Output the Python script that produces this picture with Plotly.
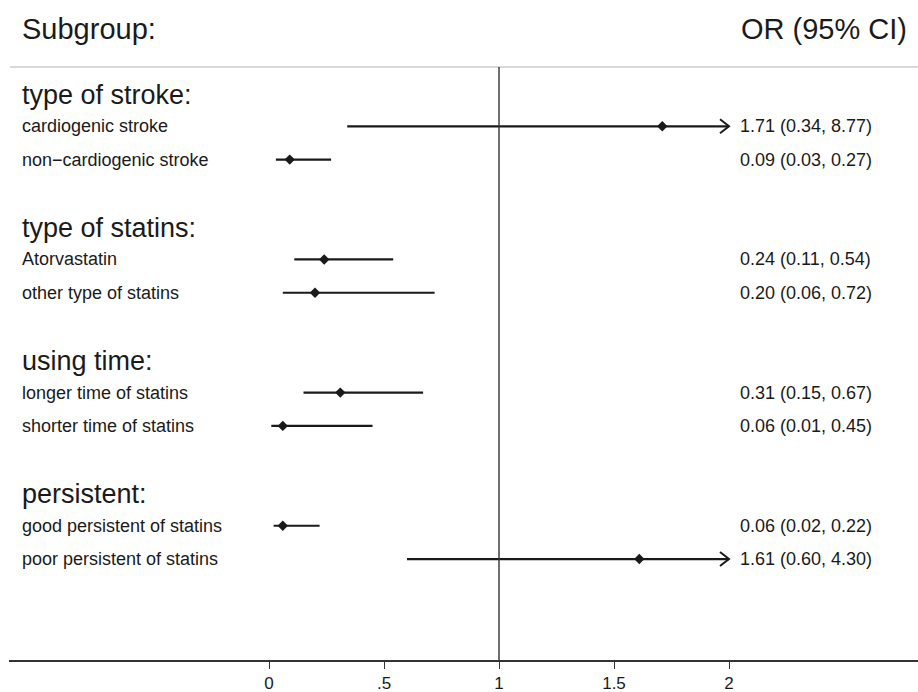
import plotly.graph_objects as go

# ---------------- data ----------------
groups = ["type of stroke:", "type of statins:", "using time:", "persistent:"]
subgroups = [
    ["cardiogenic stroke", "non\u2212cardiogenic stroke"],
    ["Atorvastatin", "other type of statins"],
    ["longer time of statins", "shorter time of statins"],
    ["good persistent of statins", "poor persistent of statins"],
]
or_vals = [1.71, 0.09, 0.24, 0.20, 0.31, 0.06, 0.06, 1.61]
ci_low = [0.34, 0.03, 0.11, 0.06, 0.15, 0.01, 0.02, 0.60]
ci_high = [8.77, 0.27, 0.54, 0.72, 0.67, 0.45, 0.22, 4.30]
x_ticks = [0, 0.5, 1, 1.5, 2]
x_tick_text = ["0", ".5", "1", "1.5", "2"]
null_value = 1
x_clip = 2

# ---------------- layout constants (pixels) ----------------
W, H = 918, 692
ML, MR, MT, MB = 9, 0, 0, 32
PX0 = 269.0        # pixel of x=0
PX_PER_UNIT = 230.0
ROW0_PX = 93.0     # pixel of row 0
ROW_PX = 33.29

def px_to_x(px):
    return (px - PX0) / PX_PER_UNIT

def py_to_row(py):
    return (py - ROW0_PX) / ROW_PX

x_range = [px_to_x(ML), px_to_x(W - MR)]
y_range = [py_to_row(H - MB), py_to_row(MT)]

FONT = "Liberation Sans, Arial, Helvetica, sans-serif"
INK = "#1a1a1a"

# ---------------- rows ----------------
header_rows, row_idx, row_labels = [], [], []
for g, subs in enumerate(subgroups):
    base = 4 * g
    header_rows.append(base)
    for j, s in enumerate(subs):
        row_idx.append(base + 1 + j)
        row_labels.append(s)

line_x, line_y = [], []
chev_x, chev_y = [], []
chev_dx = 9 / PX_PER_UNIT
chev_dy = 7 / ROW_PX
for o, lo, hi, r in zip(or_vals, ci_low, ci_high, row_idx):
    end = min(hi, x_clip)
    line_x += [lo, end, None]
    line_y += [r, r, None]
    if hi > x_clip:
        chev_x += [end - chev_dx, end, end - chev_dx, None]
        chev_y += [r - chev_dy, r, r + chev_dy, None]

fig = go.Figure()
fig.add_trace(go.Scatter(x=line_x, y=line_y, mode="lines",
                         line=dict(color=INK, width=2.2), hoverinfo="skip",
                         showlegend=False))
fig.add_trace(go.Scatter(x=chev_x, y=chev_y, mode="lines",
                         line=dict(color=INK, width=2.0), hoverinfo="skip",
                         showlegend=False))
fig.add_trace(go.Scatter(x=or_vals, y=row_idx, mode="markers",
                         marker=dict(symbol="diamond", size=8, color=INK),
                         showlegend=False))

annotations = []
label_x = px_to_x(20)
est_x = px_to_x(738)
header_shift = 2 / ROW_PX
for g, r in zip(groups, header_rows):
    annotations.append(dict(x=label_x, y=r + header_shift, text=g, xanchor="left",
                            yanchor="middle", showarrow=False,
                            font=dict(family=FONT, size=27, color=INK)))
for lab, r in zip(row_labels, row_idx):
    annotations.append(dict(x=label_x, y=r, text=lab, xanchor="left", yanchor="middle",
                            showarrow=False, font=dict(family=FONT, size=18, color=INK)))
for o, lo, hi, r in zip(or_vals, ci_low, ci_high, row_idx):
    annotations.append(dict(x=est_x, y=r, text=f"{o:.2f} ({lo:.2f}, {hi:.2f})",
                            xanchor="left", yanchor="middle", showarrow=False,
                            font=dict(family=FONT, size=18, color=INK)))
title_row = py_to_row(29)
annotations.append(dict(x=label_x, y=title_row, text="Subgroup:", xanchor="left",
                        yanchor="middle", showarrow=False,
                        font=dict(family=FONT, size=29, color=INK)))
annotations.append(dict(x=px_to_x(909), y=title_row, text="OR (95% CI)", xanchor="right",
                        yanchor="middle", showarrow=False,
                        font=dict(family=FONT, size=29, color=INK)))

top_line_row = py_to_row(67)
shapes = [
    dict(type="line", xref="x", yref="y", x0=px_to_x(10), x1=px_to_x(W), y0=top_line_row,
         y1=top_line_row, line=dict(color="#cccccc", width=1.5)),
    dict(type="line", xref="x", yref="y", x0=null_value, x1=null_value, y0=top_line_row,
         y1=y_range[0], line=dict(color="#333333", width=1.4)),
]

fig.update_layout(
    width=W, height=H,
    margin=dict(l=ML, r=MR, t=MT, b=MB, pad=0),
    paper_bgcolor="white", plot_bgcolor="white",
    annotations=annotations, shapes=shapes,
    xaxis=dict(range=x_range, tickvals=x_ticks, ticktext=x_tick_text,
               ticks="outside", ticklen=7, tickwidth=1.4, tickcolor="#333333",
               showline=True, linecolor="#333333", linewidth=1.5,
               showgrid=False, zeroline=False, fixedrange=True,
               tickfont=dict(family=FONT, size=17, color=INK)),
    yaxis=dict(range=y_range, visible=False, showgrid=False, zeroline=False,
               fixedrange=True),
    showlegend=False,
)

fig.write_html("out.html", config={"displayModeBar": False},
               post_script="document.body.style.margin='0';document.body.style.overflow='hidden';")
